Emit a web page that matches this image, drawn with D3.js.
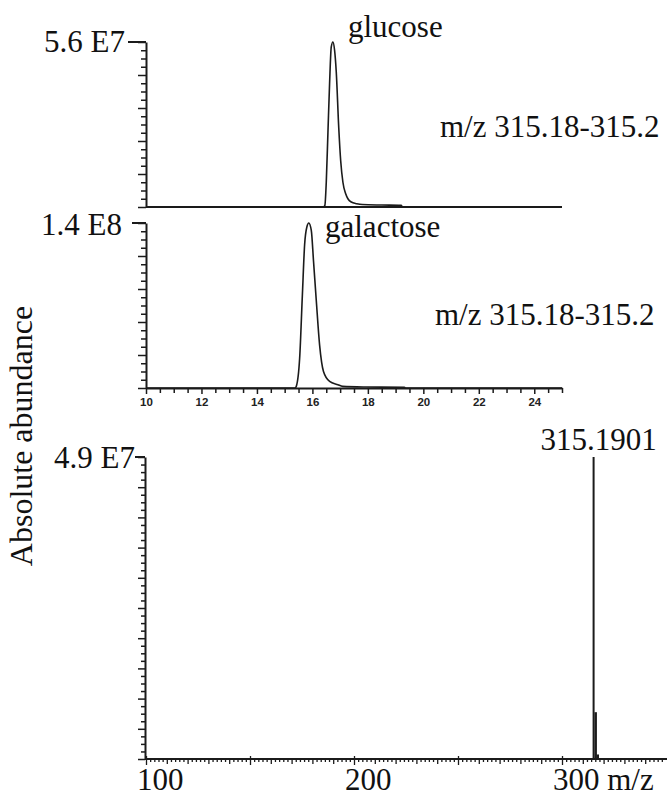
<!DOCTYPE html>
<html>
<head>
<meta charset="utf-8">
<script src="https://cdn.jsdelivr.net/npm/d3@7"></script>
<style>
  body { margin: 0; background: #fff; }
  svg { display: block; }
  .serif { font-family: "Liberation Serif", "DejaVu Serif", "Times New Roman", serif; }
</style>
</head>
<body>
<div id="chart"></div>
<script>
// retention time axis (min)
const rtTicks = [10, 12, 14, 16, 18, 20, 22, 24];

// extracted ion chromatograms, % of panel max
const glucoseRT  = [10, 16.40, 16.45, 16.50, 16.56, 16.62, 16.68, 16.74, 16.80, 16.86, 16.95, 17.02, 17.10, 17.20, 17.28, 17.40, 17.60, 17.80, 18.50, 19.20, 19.25, 25];
const glucoseInt = [0, 0, 1, 15, 45, 75, 97, 100, 95, 82, 48, 28, 15, 8, 5, 3, 2, 1.5, 1.2, 1.0, 0, 0];

const galactoseRT  = [10, 15.38, 15.42, 15.54, 15.64, 15.72, 15.80, 15.87, 15.96, 16.04, 16.14, 16.26, 16.40, 16.62, 16.92, 17.09, 17.94, 19.32, 19.36, 25];
const galactoseInt = [0, 0, 1, 18, 57, 87, 97.6, 100, 95.5, 77, 53, 26, 10, 4, 2, 1, 0.6, 0.4, 0, 0];

// mass spectrum
const specMz  = [315.1901, 316.19, 317.19];
const specInt = [100, 15.5, 1.5];
const mzTicks = [100, 200, 300];
const mzTickLabels = ["100", "200", "300 m/z"];

const panelMax = ["5.6 E7", "1.4 E8", "4.9 E7"];
const panelIon = ["m/z 315.18-315.2", "m/z 315.18-315.2"];
const peakNames = ["glucose", "galactose"];

const W = 667, H = 797;
const ink = "#1b1b1b";
const fs = "31px";

const svg = d3.select("#chart").append("svg")
    .attr("width", W)
    .attr("height", H);

const xRT = d3.scaleLinear().domain([10, 25]).range([146, 562]);
const y1 = d3.scaleLinear().domain([0, 100]).range([207, 42]);
const y2 = d3.scaleLinear().domain([0, 100]).range([388, 223]);

const xMz = d3.scaleLinear().domain([100, 300]).range([146, 562]);
const y3 = d3.scaleLinear().domain([0, 100]).range([759, 457]);

function serifText(x, y, str, anchor) {
    return svg.append("text")
        .attr("class", "serif")
        .attr("x", x)
        .attr("y", y)
        .attr("text-anchor", anchor || "start")
        .style("font-size", fs)
        .attr("fill", "#111")
        .text(str);
}

function yAxis(scale, x, step, major, minorLen, majorLen) {
    const g = svg.append("g")
        .attr("transform", `translate(${x},0)`)
        .call(d3.axisLeft(scale)
            .tickValues(d3.range(0, 100.01, step))
            .tickSizeOuter(0)
            .tickFormat(""));
    g.select(".domain").attr("stroke", ink).attr("stroke-width", 2);
    g.selectAll(".tick line")
        .attr("stroke", ink)
        .attr("stroke-width", 1.5)
        .attr("x2", d => (Math.abs(d % major) < 1e-6 ? -majorLen : -minorLen));
    return g;
}

function topTick(scale, x0, x1) {
    svg.append("line")
        .attr("x1", x0).attr("x2", x1)
        .attr("y1", scale(100)).attr("y2", scale(100))
        .attr("stroke", ink)
        .attr("stroke-width", 2);
}

// ---- panel 1: glucose ----
yAxis(y1, 146, 5, 20, 5, 8);
topTick(y1, 128, 146);
svg.append("line")
    .attr("x1", xRT(10)).attr("x2", xRT(25))
    .attr("y1", y1(0)).attr("y2", y1(0))
    .attr("stroke", ink).attr("stroke-width", 2);

const line1 = d3.line()
    .x(d => xRT(d[0]))
    .y(d => y1(d[1]))
    .curve(d3.curveMonotoneX);
svg.append("path")
    .datum(d3.zip(glucoseRT, glucoseInt))
    .attr("d", line1)
    .attr("fill", "none")
    .attr("stroke", ink)
    .attr("stroke-width", 1.6);

serifText(125, 52, panelMax[0], "end");
serifText(348, 37, peakNames[0]);
serifText(440, 137, panelIon[0]);

// ---- panel 2: galactose ----
yAxis(y2, 146, 5, 20, 5, 8);
topTick(y2, 132, 146);

const xAxis2 = svg.append("g")
    .attr("transform", `translate(0,${y2(0)})`)
    .call(d3.axisBottom(xRT)
        .tickValues(d3.range(10, 25.01, 0.5))
        .tickSizeOuter(0)
        .tickFormat(d => (rtTicks.includes(d) ? d : "")));
xAxis2.select(".domain").attr("stroke", ink).attr("stroke-width", 2);
xAxis2.selectAll(".tick line")
    .attr("stroke", ink)
    .attr("stroke-width", 1.5)
    .attr("y2", d => (d % 2 === 0 ? 6 : 5));
xAxis2.selectAll(".tick text")
    .attr("y", 10)
    .attr("dy", "0.71em")
    .attr("fill", "#222")
    .style("font-family", "'Liberation Sans', Arial, sans-serif")
    .style("font-weight", "bold")
    .style("font-size", "11.5px");

const line2 = d3.line()
    .x(d => xRT(d[0]))
    .y(d => y2(d[1]))
    .curve(d3.curveMonotoneX);
svg.append("path")
    .datum(d3.zip(galactoseRT, galactoseInt))
    .attr("d", line2)
    .attr("fill", "none")
    .attr("stroke", ink)
    .attr("stroke-width", 1.6);

serifText(122, 235, panelMax[1], "end");
serifText(325, 237, peakNames[1]);
serifText(435, 325, panelIon[1]);

// ---- panel 3: mass spectrum ----
yAxis(y3, 145, 2.5, 10, 4, 7);
topTick(y3, 135, 145);

const xAxis3 = svg.append("g")
    .attr("transform", `translate(0,${y3(0)})`)
    .call(d3.axisBottom(xMz)
        .tickValues(d3.range(100, 350, 2))
        .tickSizeOuter(0)
        .tickFormat(""));
xAxis3.select(".domain")
    .attr("d", `M${xMz(100) - 1},0H${W}`)
    .attr("stroke", ink).attr("stroke-width", 2);
xAxis3.selectAll(".tick line")
    .attr("stroke", ink)
    .attr("stroke-width", 1.3)
    .attr("y1", d => (d % 50 === 0 ? -3 : 0))
    .attr("y2", d => (d % 50 === 0 ? 6 : d % 10 === 0 ? 5 : 3));

svg.append("g")
    .selectAll("text")
    .data(mzTicks)
    .join("text")
    .attr("class", "serif")
    .attr("x", d => xMz(d) - 9)
    .attr("y", 790)
    .style("font-size", fs)
    .attr("fill", "#111")
    .text((d, i) => mzTickLabels[i]);

svg.append("g")
    .selectAll("line")
    .data(d3.zip(specMz, specInt))
    .join("line")
    .attr("x1", d => xMz(d[0])).attr("x2", d => xMz(d[0]))
    .attr("y1", y3(0)).attr("y2", d => y3(d[1]))
    .attr("stroke", ink)
    .attr("stroke-width", (d, i) => (i === 0 ? 2 : 2.5));

serifText(135, 468, panelMax[2], "end");
serifText(xMz(specMz[0]) + 5, 450, "315.1901", "middle");

// shared y label
svg.append("text")
    .attr("class", "serif")
    .attr("transform", "translate(32,436) rotate(-90)")
    .attr("text-anchor", "middle")
    .style("font-size", "32px")
    .attr("fill", "#111")
    .text("Absolute abundance");
</script>
</body>
</html>
